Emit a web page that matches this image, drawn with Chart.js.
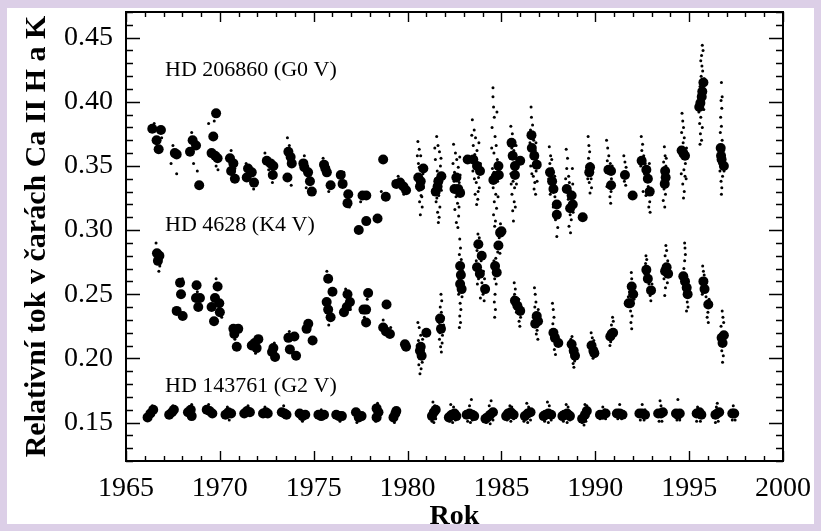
<!DOCTYPE html>
<html><head><meta charset="utf-8">
<script src="https://cdn.jsdelivr.net/npm/chart.js@4"></script>
<style>html,body{margin:0;padding:0;background:#dccfe7;}canvas{display:block;}</style>
</head><body>
<canvas id="c" width="821" height="531"></canvas>
<script>
// ---------- tick labels ----------
const xTickLabels = ['1965','1970','1975','1980','1985','1990','1995','2000'];
const yTickLabels = ['0.15','0.20','0.25','0.30','0.35','0.40','0.45'];
const xTitle = 'Rok';
const yTitle = 'Relativní tok v čarách Ca II H a K';
const starNames = ['HD 206860 (G0 V)', 'HD 4628 (K4 V)', 'HD 143761 (G2 V)'];
const starNameAt = [[1967.08,0.4243],[1967.08,0.304],[1967.08,0.178]];

// ---------- HD 206860 (G0 V) ----------
const g0Big = [[1966.40,0.379],[1966.86,0.378],[1966.63,0.370],[1966.74,0.363],
[1967.60,0.360],[1967.70,0.359],
[1968.55,0.370],[1968.73,0.366],[1968.41,0.361],[1968.90,0.335],
[1969.80,0.391],[1969.65,0.373],[1969.56,0.360],[1969.75,0.358],[1969.88,0.356],
[1970.54,0.356],[1970.72,0.352],[1970.60,0.346],[1970.80,0.340],
[1971.50,0.348],[1971.70,0.345],[1971.43,0.341],[1971.82,0.337],
[1972.50,0.354],[1972.70,0.352],[1972.85,0.350],[1972.82,0.343],
[1973.65,0.361],[1973.77,0.357],[1973.83,0.352],[1973.60,0.341],
[1974.45,0.352],[1974.50,0.349],[1974.70,0.345],[1974.80,0.338],[1974.90,0.330],
[1975.55,0.351],[1975.62,0.348],[1975.70,0.345],[1975.90,0.335],
[1976.44,0.343],[1976.54,0.336],[1976.84,0.328],[1976.80,0.321],
[1977.40,0.300],[1977.60,0.327],[1977.80,0.327],[1977.80,0.307],
[1978.40,0.309],[1978.70,0.355],[1978.84,0.326],
[1979.40,0.336],[1979.60,0.337],[1979.78,0.334],[1979.92,0.331],
[1980.57,0.341],[1980.84,0.348],[1980.66,0.334],[1980.70,0.338],
[1981.64,0.338],[1981.50,0.330],[1981.80,0.342],[1981.60,0.334],
[1982.50,0.332],[1982.60,0.341],[1982.70,0.332],[1982.80,0.329],
[1983.20,0.355],[1983.50,0.355],[1983.70,0.350],[1983.86,0.346],
[1984.57,0.339],[1984.70,0.342],[1984.84,0.350],[1984.86,0.343],
[1985.54,0.368],[1985.60,0.358],[1985.72,0.350],[1986.00,0.354],[1985.72,0.343],
[1986.60,0.374],[1986.62,0.364],[1986.75,0.358],[1986.88,0.351],
[1987.59,0.345],[1987.77,0.332],[1987.70,0.338],[1987.95,0.320],[1987.95,0.312],
[1988.48,0.332],[1988.74,0.327],[1988.66,0.317],[1988.80,0.320],
[1989.33,0.310],[1989.68,0.345],[1989.72,0.349],
[1990.70,0.347],[1990.84,0.346],[1990.84,0.335],
[1991.58,0.343],[1991.99,0.327],
[1992.47,0.354],[1992.72,0.347],[1992.80,0.340],[1992.90,0.330],
[1993.72,0.346],[1993.75,0.341],[1993.70,0.336],
[1994.60,0.362],[1994.69,0.360],[1994.78,0.358],
[1995.76,0.415],[1995.67,0.404],[1995.54,0.396],[1995.60,0.399],[1995.70,0.408],
[1996.68,0.364],[1996.73,0.355],[1996.85,0.350],[1996.70,0.358]];

const g0Small = [[1966.5,0.383],[1966.9,0.372],[1967.4,0.352],[1967.5,0.366],[1967.7,0.344],[1968.5,0.376],[1968.6,0.352],[1968.8,0.346],[1969.4,0.383],[1969.7,0.385],[1969.8,0.350],[1969.9,0.347],[1970.6,0.362],[1970.8,0.348],[1971.4,0.352],[1971.8,0.332],[1972.4,0.360],[1972.8,0.337],[1972.6,0.347],[1973.6,0.372],[1973.7,0.366],[1973.8,0.335],[1974.5,0.358],[1974.6,0.333],[1974.8,0.332],[1975.5,0.356],[1975.8,0.330],[1976.6,0.345],[1976.9,0.318],[1977.5,0.322],[1978.6,0.330],[1979.5,0.342],[1979.8,0.328],
[1980.55,0.369],[1980.62,0.363],[1980.70,0.358],[1980.58,0.352],[1980.75,0.347],[1980.66,0.343],[1980.80,0.338],[1980.60,0.331],[1980.72,0.327],[1980.64,0.322],[1980.78,0.318],[1980.68,0.312],
[1980.52,0.358],[1980.82,0.344],[1980.56,0.336],[1980.76,0.326],[1980.62,0.349],[1980.84,0.333],
[1981.55,0.373],[1981.62,0.366],[1981.70,0.361],[1981.48,0.355],[1981.75,0.350],[1981.58,0.346],[1981.66,0.327],[1981.52,0.322],[1981.72,0.318],[1981.60,0.314],[1981.68,0.310],[1981.64,0.306],
[1981.45,0.364],[1981.78,0.356],[1981.50,0.340],[1981.80,0.331],[1981.56,0.325],[1981.74,0.344],
[1982.45,0.367],[1982.55,0.360],[1982.62,0.355],[1982.70,0.349],[1982.50,0.345],[1982.75,0.337],[1982.58,0.326],[1982.66,0.321],[1982.52,0.316],[1982.72,0.311],[1982.60,0.306],[1982.68,0.302],
[1982.42,0.352],[1982.78,0.357],[1982.48,0.338],[1982.80,0.343],[1982.56,0.330],[1982.74,0.318],
[1983.45,0.386],[1983.55,0.378],[1983.62,0.372],[1983.50,0.366],[1983.70,0.362],[1983.58,0.359],[1983.78,0.341],[1983.66,0.337],[1983.82,0.333],[1983.60,0.328],[1983.74,0.324],[1983.68,0.320],
[1983.42,0.374],[1983.80,0.368],[1983.48,0.346],[1983.88,0.352],[1983.56,0.340],[1983.76,0.330],
[1984.55,0.411],[1984.55,0.404],[1984.58,0.396],[1984.62,0.388],[1984.50,0.380],[1984.66,0.373],[1984.72,0.366],[1984.60,0.360],[1984.78,0.355],[1984.56,0.333],[1984.70,0.328],[1984.62,0.322],[1984.74,0.317],[1984.58,0.312],[1984.68,0.307],[1984.64,0.303],
[1984.48,0.364],[1984.80,0.338],[1984.52,0.348],[1984.76,0.392],[1984.60,0.345],[1984.82,0.326],
[1985.50,0.381],[1985.58,0.375],[1985.55,0.364],[1985.66,0.362],[1985.48,0.356],[1985.75,0.347],[1985.62,0.338],[1985.70,0.333],[1985.56,0.328],[1985.68,0.322],[1985.60,0.315],[1985.64,0.307],
[1985.45,0.368],[1985.78,0.366],[1985.50,0.344],[1985.80,0.336],[1985.52,0.336],[1985.74,0.318],
[1986.58,0.396],[1986.60,0.388],[1986.66,0.382],[1986.55,0.378],[1986.72,0.370],[1986.80,0.362],[1986.64,0.357],[1986.85,0.346],[1986.70,0.342],[1986.78,0.337],[1986.74,0.332],[1986.82,0.328],
[1986.52,0.368],[1986.88,0.356],[1986.56,0.350],[1986.90,0.338],[1986.62,0.344],[1986.84,0.368],
[1987.55,0.365],[1987.62,0.358],[1987.58,0.352],[1987.70,0.348],[1987.66,0.342],[1987.80,0.336],[1987.85,0.326],[1987.76,0.318],[1987.92,0.314],[1987.88,0.308],[1988.00,0.302],[1987.95,0.295],
[1987.52,0.340],[1987.90,0.330],[1987.60,0.328],[1987.98,0.318],[1987.68,0.355],[1987.84,0.342],
[1988.45,0.363],[1988.52,0.356],[1988.48,0.348],[1988.58,0.342],[1988.62,0.337],[1988.70,0.330],[1988.56,0.324],[1988.76,0.322],[1988.66,0.312],[1988.72,0.308],[1988.60,0.303],[1988.68,0.298],
[1988.42,0.340],[1988.80,0.336],[1988.50,0.330],[1988.82,0.314],[1988.54,0.316],[1988.78,0.348],
[1989.62,0.373],[1989.66,0.366],[1989.70,0.361],[1989.64,0.356],[1989.74,0.352],[1989.78,0.340],[1989.68,0.337],[1989.80,0.333],[1989.72,0.329],
[1989.58,0.350],[1989.84,0.346],[1989.60,0.340],
[1990.60,0.370],[1990.66,0.364],[1990.72,0.358],[1990.64,0.354],[1990.80,0.352],[1990.86,0.340],[1990.76,0.337],[1990.84,0.330],[1990.78,0.326],[1990.82,0.321],
[1990.58,0.346],[1990.90,0.350],[1990.62,0.334],
[1991.52,0.358],[1991.58,0.353],[1991.64,0.349],[1991.55,0.338],[1991.62,0.335],
[1992.45,0.373],[1992.52,0.367],[1992.48,0.362],[1992.58,0.358],[1992.66,0.352],[1992.62,0.344],[1992.75,0.338],[1992.82,0.334],[1992.70,0.327],[1992.90,0.322],[1992.85,0.318],[1992.92,0.314],
[1992.42,0.350],[1992.96,0.340],[1992.55,0.330],[1992.88,0.352],
[1993.68,0.365],[1993.72,0.358],[1993.64,0.353],[1993.76,0.350],[1993.70,0.340],[1993.66,0.332],[1993.74,0.328],[1993.62,0.323],[1993.70,0.318],
[1993.60,0.344],[1993.80,0.338],[1993.78,0.356],
[1994.62,0.391],[1994.66,0.385],[1994.70,0.380],[1994.60,0.376],[1994.74,0.372],[1994.68,0.368],[1994.80,0.352],[1994.72,0.347],[1994.78,0.342],[1994.66,0.336],[1994.74,0.330],[1994.70,0.325],
[1994.56,0.358],[1994.86,0.364],[1994.58,0.344],[1994.84,0.340],
[1995.70,0.444],[1995.74,0.440],[1995.62,0.432],[1995.68,0.428],[1995.72,0.424],[1995.64,0.420],[1995.80,0.418],[1995.58,0.412],[1995.76,0.402],[1995.52,0.392],[1995.62,0.388],[1995.56,0.383],[1995.70,0.380],[1995.60,0.375],[1995.66,0.370],[1995.58,0.367],
[1995.50,0.404],[1995.82,0.410],[1995.54,0.398],[1995.78,0.394],[1995.66,0.436],
[1996.72,0.415],[1996.70,0.401],[1996.74,0.395],[1996.68,0.388],[1996.72,0.381],[1996.66,0.376],[1996.76,0.370],[1996.64,0.346],[1996.78,0.342],[1996.70,0.338],[1996.74,0.333],[1996.72,0.328],
[1996.60,0.366],[1996.84,0.362],[1996.62,0.352],[1996.86,0.346],[1996.76,0.404]];

// ---------- HD 4628 (K4 V) ----------
const k4Big = [[1966.65,0.282],[1966.78,0.280],[1966.70,0.276],
[1967.88,0.259],[1967.93,0.250],[1967.70,0.237],[1968.02,0.233],
[1968.76,0.257],[1968.73,0.247],[1968.94,0.247],[1968.85,0.240],
[1969.88,0.256],[1969.74,0.247],[1969.97,0.243],[1969.56,0.240],[1970.00,0.236],[1969.69,0.229],
[1970.72,0.223],[1970.98,0.223],[1970.77,0.219],[1970.90,0.209],
[1971.70,0.210],[1972.05,0.215],[1971.96,0.208],[1971.85,0.212],
[1972.85,0.208],[1972.78,0.205],[1972.94,0.201],
[1973.65,0.216],[1973.97,0.217],[1973.73,0.207],[1974.06,0.202],
[1974.71,0.227],[1974.62,0.223],[1974.94,0.214],
[1975.77,0.262],[1976.00,0.252],[1975.69,0.244],[1975.77,0.238],[1975.90,0.232],
[1976.80,0.250],[1976.93,0.244],[1976.76,0.240],[1976.61,0.236],
[1977.90,0.251],[1977.79,0.238],[1977.65,0.238],[1977.79,0.228],
[1978.88,0.242],[1978.70,0.224],[1978.85,0.221],[1979.06,0.219],
[1979.86,0.211],[1979.92,0.209],
[1980.66,0.206],[1980.75,0.202],[1980.70,0.209],[1981.00,0.220],
[1981.73,0.231],[1981.78,0.223],
[1982.80,0.272],[1982.84,0.265],[1982.80,0.258],[1982.88,0.254],
[1983.77,0.289],[1983.95,0.280],[1983.70,0.271],[1983.85,0.266],[1984.13,0.254],
[1984.93,0.298],[1985.00,0.299],[1984.84,0.288],[1984.66,0.272],[1984.75,0.267],
[1985.72,0.245],[1985.85,0.241],[1986.00,0.237],
[1986.88,0.233],[1986.80,0.227],[1986.95,0.229],
[1987.77,0.220],[1987.85,0.216],[1988.03,0.212],
[1988.74,0.211],[1988.85,0.206],[1988.92,0.202],
[1989.80,0.210],[1989.90,0.206],[1989.95,0.204],
[1990.87,0.219],[1990.80,0.217],[1990.95,0.220],
[1991.85,0.243],[1992.02,0.250],[1991.94,0.256],[1991.78,0.243],
[1992.72,0.269],[1992.80,0.262],[1992.97,0.253],
[1993.80,0.271],[1993.88,0.266],[1993.72,0.268],
[1994.69,0.264],[1994.87,0.255],[1994.92,0.250],[1994.78,0.260],
[1995.76,0.260],[1995.82,0.254],[1996.02,0.242],
[1996.73,0.216],[1996.85,0.218],[1996.78,0.212]];

const k4Small = [[1966.60,0.290],[1966.75,0.268],[1966.80,0.272],[1968.00,0.262],[1968.80,0.252],[1969.80,0.262],[1970.10,0.232],[1970.80,0.215],[1971.90,0.204],[1972.90,0.212],[1973.70,0.221],[1973.90,0.203],[1975.70,0.268],[1975.80,0.226],[1976.70,0.254],[1976.95,0.238],[1977.70,0.232],[1977.85,0.246],[1978.70,0.230],[1979.10,0.224],
[1980.55,0.228],[1980.62,0.224],[1980.70,0.218],[1980.58,0.214],[1980.74,0.211],[1980.64,0.200],[1980.78,0.197],[1980.60,0.195],[1980.72,0.192],[1980.66,0.188],
[1980.52,0.210],[1980.82,0.206],[1980.58,0.203],[1980.80,0.215],
[1981.78,0.250],[1981.82,0.245],[1981.74,0.240],[1981.80,0.236],[1981.86,0.218],[1981.70,0.215],[1981.84,0.212],[1981.76,0.209],[1981.80,0.205],
[1981.68,0.228],[1981.92,0.226],[1981.72,0.220],[1981.90,0.232],
[1982.78,0.293],[1982.82,0.286],[1982.76,0.281],[1982.86,0.277],[1982.74,0.262],[1982.90,0.248],[1982.80,0.243],[1982.84,0.238],[1982.78,0.233],[1982.82,0.228],[1982.76,0.224],
[1982.70,0.270],[1982.94,0.268],[1982.72,0.250],[1982.92,0.258],
[1983.75,0.297],[1983.82,0.294],[1983.70,0.284],[1983.92,0.276],[1983.78,0.262],[1983.96,0.259],[1984.02,0.250],[1983.88,0.247],[1984.08,0.245],
[1983.66,0.276],[1984.04,0.268],[1983.72,0.258],[1984.10,0.262],
[1984.95,0.305],[1984.88,0.294],[1984.80,0.283],[1984.70,0.278],[1984.64,0.262],[1984.72,0.258],[1984.66,0.250],[1984.62,0.244],[1984.68,0.238],[1984.64,0.232],
[1984.58,0.268],[1984.92,0.282],[1984.60,0.276],[1984.96,0.290],
[1985.68,0.259],[1985.74,0.254],[1985.70,0.250],[1985.92,0.246],[1985.80,0.236],[1986.02,0.232],[1985.94,0.229],[1985.98,0.225],
[1985.64,0.242],[1986.06,0.240],[1985.66,0.248],
[1986.76,0.255],[1986.80,0.250],[1986.84,0.244],[1986.78,0.240],[1986.96,0.238],[1986.90,0.222],[1986.86,0.219],[1986.94,0.215],
[1986.70,0.232],[1987.00,0.230],[1986.72,0.226],
[1987.72,0.243],[1987.76,0.238],[1987.80,0.232],[1987.74,0.227],[1987.92,0.210],[1987.82,0.207],[1987.88,0.203],
[1987.68,0.222],[1987.96,0.218],[1988.06,0.214],
[1988.70,0.215],[1988.76,0.217],[1988.90,0.198],[1988.82,0.196],[1988.86,0.193],
[1988.66,0.208],[1988.98,0.205],[1988.72,0.204],
[1989.78,0.220],[1989.84,0.216],[1989.92,0.214],[1989.96,0.202],[1989.88,0.200],
[1989.72,0.210],[1990.00,0.208],
[1990.92,0.232],[1990.96,0.229],[1990.86,0.226],[1990.82,0.213],[1990.78,0.210],
[1991.92,0.267],[1991.94,0.262],[1991.88,0.237],[1991.96,0.233],[1991.90,0.228],[1991.94,0.223],
[1991.76,0.248],[1992.06,0.246],[1991.82,0.252],
[1992.70,0.280],[1992.74,0.277],[1992.68,0.274],[1992.86,0.258],[1992.92,0.249],[1992.96,0.245],
[1992.64,0.266],[1993.02,0.258],[1992.66,0.262],
[1993.76,0.288],[1993.80,0.284],[1993.72,0.280],[1993.86,0.276],[1993.84,0.259],[1993.74,0.255],[1993.70,0.249],
[1993.64,0.272],[1993.94,0.270],[1993.66,0.262],
[1994.76,0.290],[1994.78,0.286],[1994.80,0.281],[1994.76,0.276],[1994.72,0.270],[1994.90,0.244],[1994.94,0.240],[1994.86,0.237],
[1994.64,0.266],[1994.98,0.252],[1994.68,0.258],
[1995.72,0.272],[1995.76,0.268],[1995.80,0.265],[1995.90,0.248],[1996.00,0.236],[1995.96,0.232],[1996.02,0.228],
[1995.68,0.258],[1996.06,0.246],[1995.70,0.250],
[1996.76,0.237],[1996.80,0.232],[1996.84,0.228],[1996.70,0.225],[1996.86,0.210],[1996.74,0.206],[1996.82,0.202],[1996.78,0.197],
[1996.66,0.218],[1996.92,0.220],[1996.68,0.212]];

// ---------- HD 143761 (G2 V) ----------
const g2Big = [[1966.15,0.154],[1966.30,0.157],[1966.45,0.160],
[1967.30,0.156],[1967.45,0.158],[1967.55,0.160],
[1968.30,0.158],[1968.45,0.160],[1968.50,0.155],
[1969.30,0.160],[1969.45,0.159],[1969.60,0.157],
[1970.30,0.156],[1970.45,0.158],[1970.60,0.157],
[1971.30,0.157],[1971.45,0.159],[1971.60,0.158],
[1972.30,0.157],[1972.45,0.158],[1972.55,0.157],
[1973.30,0.158],[1973.45,0.157],[1973.55,0.156],
[1974.25,0.157],[1974.40,0.155],[1974.55,0.156],
[1975.25,0.156],[1975.40,0.155],[1975.55,0.156],
[1976.20,0.156],[1976.35,0.155],[1976.50,0.155],
[1977.25,0.158],[1977.40,0.154],[1977.55,0.155],
[1978.35,0.161],[1978.45,0.158],[1978.35,0.154],
[1979.25,0.154],[1979.35,0.157],[1979.40,0.159],
[1981.30,0.155],[1981.40,0.158],[1981.50,0.160],
[1982.20,0.154],[1982.35,0.156],[1982.50,0.157],[1982.60,0.155],
[1983.15,0.156],[1983.30,0.157],[1983.45,0.156],[1983.55,0.155],
[1984.25,0.154],[1984.40,0.156],[1984.55,0.158],[1984.15,0.153],
[1985.35,0.157],[1985.50,0.158],[1985.65,0.156],[1985.25,0.155],
[1986.25,0.155],[1986.40,0.157],[1986.55,0.158],
[1987.35,0.156],[1987.50,0.157],[1987.65,0.156],[1987.25,0.155],
[1988.35,0.156],[1988.50,0.157],[1988.65,0.155],[1988.25,0.155],
[1989.30,0.153],[1989.45,0.156],[1989.55,0.159],
[1990.25,0.156],[1990.40,0.156],[1990.55,0.157],
[1991.15,0.157],[1991.30,0.157],[1991.45,0.156],
[1992.35,0.157],[1992.50,0.157],[1992.65,0.156],
[1993.35,0.157],[1993.50,0.157],[1993.60,0.158],
[1994.30,0.157],[1994.40,0.156],[1994.50,0.157],
[1995.40,0.157],[1995.55,0.158],[1995.65,0.156],
[1996.40,0.156],[1996.50,0.157],[1996.60,0.158],
[1997.30,0.157],[1997.40,0.157]];

const g2Small = [[1966.40,0.163],[1967.50,0.163],[1968.50,0.164],[1969.40,0.164],[1970.40,0.162],[1970.50,0.152],[1971.50,0.163],[1972.40,0.162],[1973.40,0.163],[1974.40,0.151],[1975.40,0.160],[1976.40,0.151],[1977.30,0.150],[1978.40,0.165],[1978.30,0.151],[1979.30,0.150],
[1981.35,0.166],[1981.45,0.163],[1981.30,0.151],[1981.40,0.150],[1981.50,0.153],[1981.25,0.158],
[1982.30,0.164],[1982.45,0.162],[1982.25,0.151],[1982.40,0.150],[1982.55,0.152],[1982.15,0.157],
[1983.40,0.168],[1983.30,0.163],[1983.20,0.151],[1983.35,0.150],[1983.45,0.152],[1983.10,0.157],
[1984.45,0.167],[1984.35,0.163],[1984.20,0.150],[1984.40,0.149],[1984.55,0.152],[1984.60,0.160],
[1985.45,0.163],[1985.55,0.162],[1985.30,0.152],[1985.50,0.151],[1985.65,0.153],[1985.70,0.159],
[1986.35,0.165],[1986.45,0.162],[1986.20,0.151],[1986.40,0.150],[1986.55,0.152],[1986.60,0.159],
[1987.45,0.166],[1987.55,0.163],[1987.30,0.151],[1987.50,0.150],[1987.65,0.152],[1987.70,0.158],
[1988.45,0.164],[1988.55,0.162],[1988.30,0.151],[1988.50,0.150],[1988.65,0.152],[1988.70,0.158],
[1989.45,0.164],[1989.55,0.163],[1989.30,0.150],[1989.40,0.148],[1989.50,0.151],[1989.60,0.160],
[1990.40,0.162],[1990.25,0.153],[1990.55,0.153],[1990.50,0.160],
[1991.30,0.164],[1991.20,0.153],[1991.40,0.153],[1991.45,0.159],
[1992.50,0.164],[1992.40,0.152],[1992.60,0.152],[1992.65,0.160],
[1993.45,0.167],[1993.50,0.163],[1993.40,0.151],[1993.55,0.151],[1993.60,0.160],
[1994.40,0.168],[1994.35,0.152],[1994.50,0.152],
[1995.45,0.162],[1995.40,0.151],[1995.60,0.151],[1995.55,0.160],
[1996.50,0.165],[1996.45,0.162],[1996.40,0.150],[1996.55,0.151],[1996.60,0.158],
[1997.35,0.163],[1997.30,0.152],[1997.45,0.152]];

const toXY = arr => arr.map(p => ({x: p[0], y: p[1]}));
const SERIF = '"Liberation Serif", "Times New Roman", serif';

function dotSet(label, arr, r) {
  return { label, data: toXY(arr), pointRadius: r, pointHoverRadius: r,
    pointBackgroundColor: '#000', pointBorderWidth: 0, showLine: false };
}

const bgPlugin = {
  id: 'bg',
  beforeDraw(chart) {
    const ctx = chart.ctx;
    ctx.save();
    ctx.fillStyle = '#dccfe7';
    ctx.fillRect(0, 0, chart.width, chart.height);
    ctx.fillStyle = '#ffffff';
    ctx.fillRect(7, 8, 807, 516);
    ctx.restore();
  }
};

const framePlugin = {
  id: 'frame',
  afterDraw(chart) {
    const ctx = chart.ctx;
    const {left, right, top, bottom} = chart.chartArea;
    const xs = chart.scales.x, ys = chart.scales.y;
    ctx.save();
    ctx.strokeStyle = '#000';
    ctx.lineWidth = 1.4;
    ctx.beginPath();
    xs.ticks.forEach(t => {
      const px = Math.round(xs.getPixelForValue(t.value)) + 0.5;
      const L = (Math.round(t.value) % 5 === 0) ? 10 : 5;
      ctx.moveTo(px, bottom); ctx.lineTo(px, bottom - L);
      ctx.moveTo(px, top); ctx.lineTo(px, top + L);
    });
    ys.ticks.forEach(t => {
      const py = Math.round(ys.getPixelForValue(t.value)) + 0.5;
      const L = (Math.round(t.value * 100) % 5 === 0) ? 14 : 7;
      ctx.moveTo(left, py); ctx.lineTo(left + L, py);
      ctx.moveTo(right, py); ctx.lineTo(right - L, py);
    });
    ctx.stroke();
    ctx.lineWidth = 2;
    ctx.strokeRect(left, top, right - left, bottom - top);
    ctx.fillStyle = '#000';
    ctx.font = '22px ' + SERIF;
    ctx.textAlign = 'left';
    ctx.textBaseline = 'middle';
    starNames.forEach((n, i) => {
      ctx.fillText(n, xs.getPixelForValue(starNameAt[i][0]), ys.getPixelForValue(starNameAt[i][1]));
    });
    ctx.restore();
  }
};

new Chart(document.getElementById('c'), {
  type: 'scatter',
  data: { datasets: [
    dotSet('HD 206860 obs', g0Small, 1.5),
    dotSet('HD 206860', g0Big, 5),
    dotSet('HD 4628 obs', k4Small, 1.5),
    dotSet('HD 4628', k4Big, 5),
    dotSet('HD 143761 obs', g2Small, 1.5),
    dotSet('HD 143761', g2Big, 5)
  ]},
  options: {
    responsive: false, animation: false, devicePixelRatio: 1,
    layout: { padding: { left: 0, right: 38, top: 12, bottom: 0 } },
    plugins: { legend: { display: false }, tooltip: { enabled: false } },
    scales: {
      x: {
        type: 'linear', min: 1965, max: 2000,
        grid: { display: false, drawTicks: false }, border: { display: false },
        ticks: { stepSize: 1, autoSkip: false, maxRotation: 0, maxTicksLimit: 100, padding: 11,
          color: '#000', font: { family: SERIF, size: 28 },
          callback: v => { const s = String(Math.round(v)); return xTickLabels.includes(s) ? s : ''; } },
        title: { display: true, text: xTitle, color: '#000',
          font: { family: SERIF, size: 28, weight: 'bold', lineHeight: 1 }, padding: { top: 0, bottom: 0 } },
        afterFit: s => { s.height = 70; s.paddingLeft = 0; s.paddingRight = 0; }
      },
      y: {
        type: 'linear', min: 0.12, max: 0.47,
        grid: { display: false, drawTicks: false }, border: { display: false },
        ticks: { stepSize: 0.01, autoSkip: false, maxTicksLimit: 100, padding: 13,
          color: '#000', font: { family: SERIF, size: 28 },
          callback: v => { const s = v.toFixed(2); return yTickLabels.includes(s) ? s : ''; } },
        title: { display: true, text: yTitle, color: '#000',
          font: { family: SERIF, size: 30, weight: 'bold', lineHeight: 1 }, padding: { top: 22, bottom: 0 } },
        afterFit: s => { s.width = 126; s.paddingTop = 0; s.paddingBottom = 0; }
      }
    }
  },
  plugins: [bgPlugin, framePlugin]
});
</script>
</body></html>
